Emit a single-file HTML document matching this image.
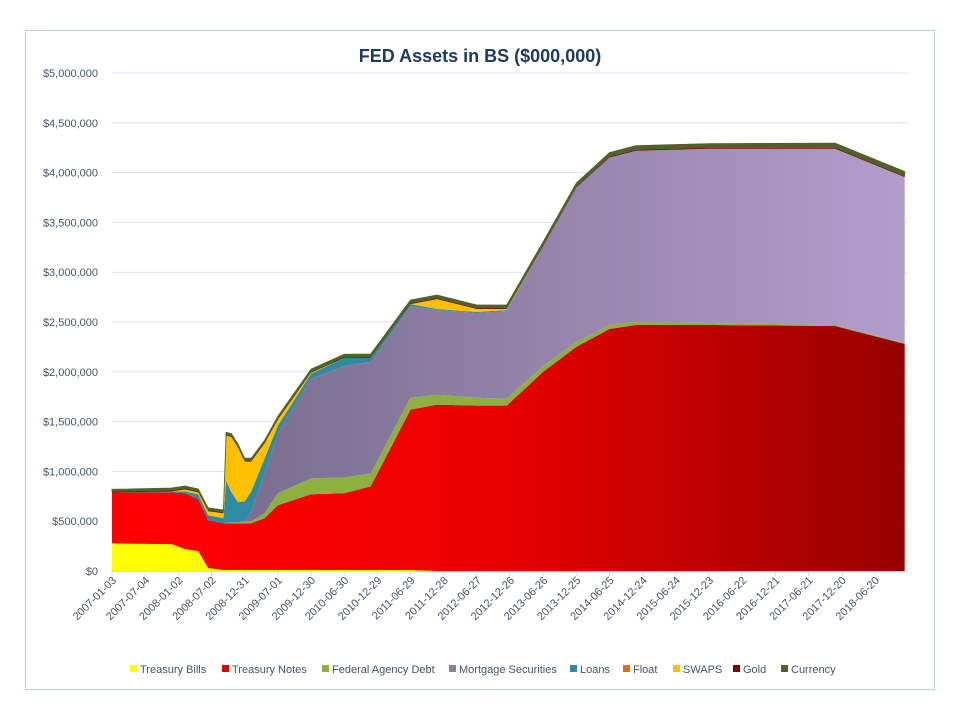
<!DOCTYPE html>
<html><head><meta charset="utf-8">
<style>
body{margin:0;background:#fff;font-family:"Liberation Sans",sans-serif;}
svg{display:block}
</style></head>
<body>
<svg id="chart" width="960" height="720">
<defs>
<linearGradient id="gRed" x1="0" x2="1" y1="0" y2="0"><stop offset="0" stop-color="#ff0000"/><stop offset="0.45" stop-color="#ee0000"/><stop offset="1" stop-color="#960000"/></linearGradient>
<linearGradient id="gMbs" x1="0" x2="1" y1="0" y2="0"><stop offset="0" stop-color="#6f6484"/><stop offset="1" stop-color="#b39ecb"/></linearGradient>
</defs>
<rect x="25.5" y="30.5" width="909" height="659" fill="#fff" stroke="#b9cde5"/>
<text x="480" y="62" text-anchor="middle" font-size="18" font-weight="bold" fill="#1f3864">FED Assets in BS ($000,000)</text>
<g id="grid"></g><g id="areas"></g><g id="xaxis"></g><g id="legend"></g>
</svg>
<script>
const years=[2007.0,2007.9,2008.1,2008.3,2008.45,2008.68,2008.72,2008.8,2008.9,2009.0,2009.1,2009.3,2009.5,2010.0,2010.5,2010.9,2011.5,2011.9,2012.5,2012.95,2013.5,2014.0,2014.5,2014.9,2016.0,2017.9,2018.95];
const bills=[0.277,0.27,0.22,0.2,0.03,0.01,0.01,0.01,0.01,0.01,0.01,0.01,0.01,0.01,0.01,0.01,0.01,0,0,0,0,0,0,0,0,0,0];
const notes=[0.51,0.52,0.56,0.52,0.48,0.47,0.47,0.47,0.47,0.47,0.47,0.52,0.65,0.76,0.77,0.84,1.61,1.67,1.66,1.66,2.0,2.25,2.43,2.47,2.47,2.46,2.28];
const agency=[0,0,0,0,0,0,0.005,0.01,0.01,0.02,0.02,0.05,0.12,0.16,0.16,0.13,0.12,0.1,0.08,0.07,0.06,0.05,0.04,0.03,0.02,0.01,0.005];
const mbs=[0,0,0,0,0,0,0,0,0,0,0.1,0.4,0.6,1.0,1.12,1.12,0.92,0.85,0.85,0.88,1.2,1.55,1.68,1.72,1.75,1.77,1.67];
const loans=[0,0.01,0.02,0.05,0.05,0.05,0.42,0.3,0.2,0.2,0.2,0.15,0.08,0.05,0.08,0.04,0.02,0.01,0.01,0.01,0,0,0,0,0,0,0];
const floatv=[0,0,0,0,0,0,0.005,0.005,0,0,0,0,0,0,0,0,0,0,0,0,0,0,0,0,0,0,0];
const swaps=[0,0,0.02,0.02,0.04,0.05,0.45,0.55,0.55,0.4,0.3,0.15,0.06,0.01,0,0,0,0.1,0.03,0.01,0,0,0,0,0,0,0];
const gold=[0.011,0.011,0.011,0.011,0.011,0.011,0.011,0.011,0.011,0.011,0.011,0.011,0.011,0.011,0.011,0.011,0.011,0.011,0.011,0.011,0.011,0.011,0.011,0.011,0.011,0.011,0.011];
const currency=[0.022,0.022,0.022,0.022,0.022,0.022,0.022,0.022,0.022,0.022,0.022,0.022,0.022,0.025,0.025,0.028,0.03,0.03,0.03,0.03,0.035,0.035,0.04,0.04,0.04,0.045,0.045];
const yTicks=[0,500000,1000000,1500000,2000000,2500000,3000000,3500000,4000000,4500000,5000000];
const xLabels=["2007-01-03","2007-07-04","2008-01-02","2008-07-02","2008-12-31","2009-07-01","2009-12-30","2010-06-30","2010-12-29","2011-06-29","2011-12-28","2012-06-27","2012-12-26","2013-06-26","2013-12-25","2014-06-25","2014-12-24","2015-06-24","2015-12-23","2016-06-22","2016-12-21","2017-06-21","2017-12-20","2018-06-20"];
const seriesNames=["Treasury Bills","Treasury Notes","Federal Agency Debt","Mortgage Securities","Loans","Float","SWAPS","Gold","Currency"];
const seriesData=[bills,notes,agency,mbs,loans,floatv,swaps,gold,currency];
const fills=["#ffff00","url(#gRed)","#8eb03f","url(#gMbs)","#2e8ba3","#e46c0a","#ffc000","#7f0000","#4f6228"];
const legendCols=["#ffff00","#e00000","#8eb03f","#8e7ea6","#2e8ba3","#e46c0a","#ffc000","#7f0000","#4f6228"];
const NS="http://www.w3.org/2000/svg";
const X0=112,X1=908,Y0=571,Y1=73;
function xs(yr){return X0+(yr-2007.0)*(X1-X0)/12;}
function ys(m){return Y0-m*(Y0-Y1)/5;}
function ysRaw(v){return Y0-v*(Y0-Y1)/5000000;}
const grid=document.getElementById('grid');
yTicks.forEach((v,i)=>{
 const y=ysRaw(v);
 if(i>0){const l=document.createElementNS(NS,'line');
 l.setAttribute('x1',X0);l.setAttribute('x2',X1);l.setAttribute('y1',y);l.setAttribute('y2',y);
 l.setAttribute('stroke','#d9e1f2');l.setAttribute('stroke-width','1');
 
 
 grid.appendChild(l);}
 const t=document.createElementNS(NS,'text');
 t.setAttribute('x',98);t.setAttribute('y',y+4);t.setAttribute('text-anchor','end');
 t.setAttribute('font-size','11');t.setAttribute('fill','#44546a');
 t.textContent='$'+v.toLocaleString('en-US');
 
 
 grid.appendChild(t);
});
const areas=document.getElementById('areas');
let base=years.map(()=>0);
seriesData.forEach((s,k)=>{
 const top=base.map((b,i)=>b+s[i]);
 let pts=years.map((yr,i)=>xs(yr)+','+ys(top[i]));
 for(let i=years.length-1;i>=0;i--)pts.push(xs(years[i])+','+ys(base[i]));
 const p=document.createElementNS(NS,'polygon');
 p.setAttribute('points',pts.join(' '));
 p.setAttribute('fill',fills[k]);
 if(k==8){p.setAttribute('stroke','#4f6228');p.setAttribute('stroke-width','0.8');}
 
 
 areas.appendChild(p);
 base=top;
});
const xa=document.getElementById('xaxis');
const ax=document.createElementNS(NS,'line');
ax.setAttribute('x1',X0);ax.setAttribute('x2',X1);ax.setAttribute('y1',Y0+0.5);ax.setAttribute('y2',Y0+0.5);ax.setAttribute('stroke','#d9d9d9');


xa.appendChild(ax);
xLabels.forEach((lab,i)=>{
 const x=xs(2007.0+i*0.5);
 const tk=document.createElementNS(NS,'line');
 tk.setAttribute('x1',x);tk.setAttribute('x2',x);tk.setAttribute('y1',Y0);tk.setAttribute('y2',Y0+5);tk.setAttribute('stroke','#d9d9d9');
 
 
 xa.appendChild(tk);
 const t=document.createElementNS(NS,'text');
 t.setAttribute('transform','translate('+(x+5)+','+(Y0+10)+') rotate(-45)');
 t.setAttribute('text-anchor','end');t.setAttribute('font-size','11');t.setAttribute('fill','#44546a');
 t.textContent=lab;
 
 
 xa.appendChild(t);
});
const lg=document.getElementById('legend');
const lx=[130,222,322,449,570,623,673,733,781];
seriesNames.forEach((n,i)=>{
 const g=document.createElementNS(NS,'g');
 
 
 const r=document.createElementNS(NS,'rect');
 r.setAttribute('x',lx[i]);r.setAttribute('y',665);r.setAttribute('width',7);r.setAttribute('height',7);r.setAttribute('fill',legendCols[i]);
 g.appendChild(r);
 const t=document.createElementNS(NS,'text');
 t.setAttribute('x',lx[i]+10);t.setAttribute('y',673);t.setAttribute('font-size','11');t.setAttribute('fill','#44546a');
 t.textContent=n;
 g.appendChild(t);
 lg.appendChild(g);
});
</script>
</body></html>
